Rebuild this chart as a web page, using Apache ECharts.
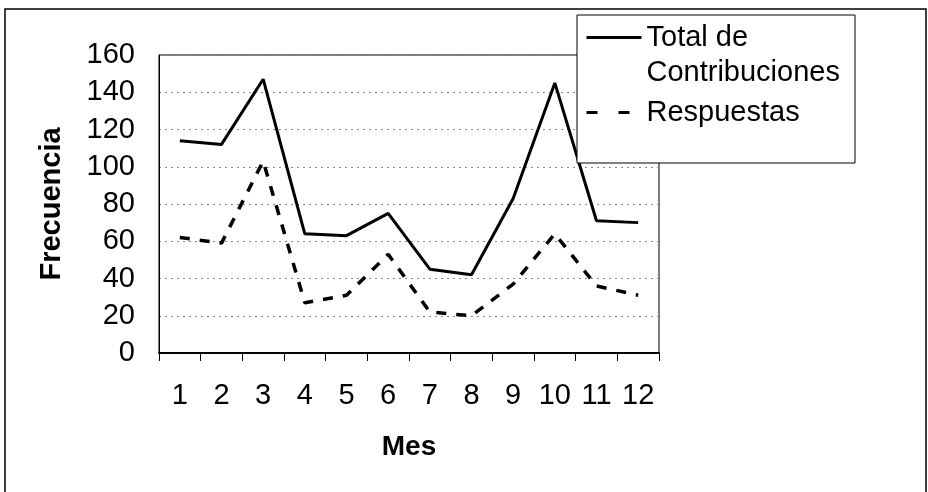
<!DOCTYPE html>
<html>
<head>
<meta charset="utf-8">
<script src="https://cdn.jsdelivr.net/npm/echarts@6/dist/echarts.min.js"></script>
<style>
  html, body { margin: 0; background: #fff; }
  #chart { width: 928px; height: 492px; }
</style>
</head>
<body>
<div id="chart"></div>
<script>
  // datos
  const meses = ['1', '2', '3', '4', '5', '6', '7', '8', '9', '10', '11', '12']
  const totalContribuciones = [114, 112, 147, 64, 63, 75, 45, 42, 83, 145, 71, 70]
  const respuestas = [62, 59, 103, 27, 31, 53, 22, 20, 37, 64, 36, 31]
  const yMin = 0
  const yMax = 160
  const yStep = 20

  const FONT = 'Liberation Sans, Arial, sans-serif'
  const FS = 29

  const chart = echarts.init(document.getElementById('chart'))
  chart.setOption({
    animation: false,
    backgroundColor: '#fff',
    textStyle: { fontFamily: FONT, color: '#000' },
    grid: {
      left: 159,
      top: 55,
      right: 269,
      bottom: 139,
      show: true,
      borderColor: '#000',
      borderWidth: 1,
      backgroundColor: '#fff'
    },
    graphic: [
      {
        type: 'rect',
        z: 0,
        silent: true,
        shape: { x: 5, y: 9, width: 921, height: 500 },
        style: { fill: 'none', stroke: '#000', lineWidth: 1.5 }
      },
      {
        type: 'rect',
        z: 3,
        silent: true,
        shape: { x: 577, y: 15, width: 278, height: 148 },
        style: { fill: '#fff', stroke: '#000', lineWidth: 1 }
      }
    ],
    legend: [
      {
        data: ['Total de Contribuciones'],
        left: 585,
        top: -15,
        padding: 0,
        itemWidth: 55,
        itemHeight: 14,
        selectedMode: false,
        itemStyle: { opacity: 0 },
        lineStyle: { width: 3, color: '#000' },
        // linea vacia arriba para que el icono quede en la primera linea
        formatter: () => '\nTotal de\nContribuciones',
        textStyle: { fontFamily: FONT, fontSize: FS, color: '#000', lineHeight: 35 }
      },
      {
        data: ['Respuestas'],
        left: 585,
        top: 95,
        padding: 0,
        itemWidth: 55,
        itemHeight: 14,
        selectedMode: false,
        itemStyle: { opacity: 0 },
        lineStyle: { width: 3, color: '#000', type: [11, 21] },
        textStyle: { fontFamily: FONT, fontSize: FS, color: '#000', lineHeight: 35 }
      }
    ],
    xAxis: {
      type: 'category',
      data: meses,
      boundaryGap: true,
      name: 'Mes',
      nameLocation: 'middle',
      nameGap: 80,
      nameTextStyle: { fontFamily: FONT, fontSize: FS - 1, fontWeight: 'bold', color: '#000' },
      axisLine: { show: true, lineStyle: { color: '#000', width: 2 } },
      axisTick: { show: true, interval: 0, length: 8, lineStyle: { color: '#000', width: 1 } },
      axisLabel: { fontFamily: FONT, fontSize: FS, color: '#000', margin: 28, interval: 0 },
      splitLine: { show: false }
    },
    yAxis: {
      type: 'value',
      min: yMin,
      max: yMax,
      interval: yStep,
      name: 'Frecuencia',
      nameLocation: 'middle',
      nameRotate: 90,
      nameGap: 93,
      nameTextStyle: { fontFamily: FONT, fontSize: FS, fontWeight: 'bold', color: '#000' },
      axisLine: { show: true, lineStyle: { color: '#000', width: 1 } },
      axisTick: { show: false },
      axisLabel: { fontFamily: FONT, fontSize: FS, color: '#000', margin: 24 },
      splitLine: { show: true, lineStyle: { color: '#888', type: [2, 4], width: 1 } }
    },
    series: [
      {
        name: 'Total de Contribuciones',
        type: 'line',
        data: totalContribuciones,
        symbol: 'none',
        z: 2,
        lineStyle: { color: '#000', width: 3, type: 'solid' },
        itemStyle: { color: '#000' }
      },
      {
        name: 'Respuestas',
        type: 'line',
        data: respuestas,
        symbol: 'none',
        z: 2,
        lineStyle: { color: '#000', width: 3.5, type: [10, 10] },
        itemStyle: { color: '#000' }
      }
    ]
  })
</script>
</body>
</html>
